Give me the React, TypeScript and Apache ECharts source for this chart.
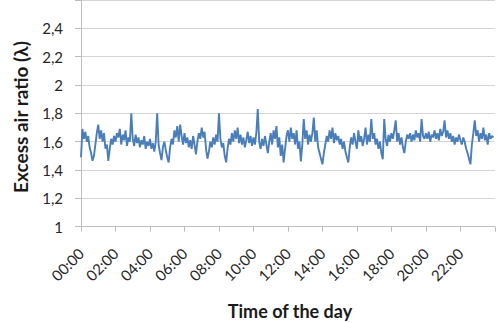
import React, { useEffect, useRef } from "react";
import * as echarts from "echarts";

// Excess air ratio (λ), one sample every 5 minutes over the day (288 samples)
const lambdaValues: number[] = [
  1.49, 1.69, 1.62, 1.67, 1.60, 1.64, 1.56, 1.52, 1.465, 1.50, 1.58, 1.66,
  1.72, 1.62, 1.68, 1.60, 1.66, 1.55, 1.58, 1.465, 1.55, 1.62, 1.58, 1.64,
  1.60, 1.66, 1.63, 1.69, 1.58, 1.65, 1.61, 1.68, 1.57, 1.63, 1.60, 1.80,
  1.62, 1.57, 1.65, 1.59, 1.63, 1.56, 1.61, 1.58, 1.64, 1.55, 1.60, 1.57,
  1.62, 1.55, 1.59, 1.53, 1.60, 1.80, 1.58, 1.52, 1.47, 1.56, 1.60, 1.54,
  1.49, 1.454, 1.56, 1.62, 1.58, 1.68, 1.63, 1.71, 1.60, 1.72, 1.64, 1.58,
  1.66, 1.59, 1.63, 1.56, 1.61, 1.55, 1.64, 1.58, 1.51, 1.60, 1.66, 1.62,
  1.70, 1.63, 1.67, 1.55, 1.48, 1.53, 1.60, 1.56, 1.63, 1.58, 1.65, 1.60,
  1.80, 1.62, 1.56, 1.59, 1.50, 1.454, 1.55, 1.62, 1.58, 1.66, 1.60, 1.68,
  1.62, 1.70, 1.59, 1.65, 1.58, 1.63, 1.56, 1.61, 1.67, 1.59, 1.64, 1.57,
  1.63, 1.58, 1.66, 1.83, 1.60, 1.55, 1.62, 1.57, 1.64, 1.58, 1.52, 1.60,
  1.66, 1.58, 1.68, 1.62, 1.71, 1.56, 1.63, 1.50, 1.58, 1.454, 1.55, 1.64,
  1.68, 1.60, 1.70, 1.62, 1.66, 1.58, 1.68, 1.55, 1.60, 1.46, 1.58, 1.76,
  1.62, 1.68, 1.58, 1.65, 1.60, 1.66, 1.77, 1.60, 1.68, 1.56, 1.52, 1.48,
  1.44, 1.52, 1.58, 1.64, 1.60, 1.68, 1.62, 1.70, 1.59, 1.66, 1.61, 1.64,
  1.58, 1.62, 1.55, 1.60, 1.53, 1.49, 1.454, 1.56, 1.63, 1.58, 1.66, 1.60,
  1.55, 1.68, 1.60, 1.64, 1.57, 1.62, 1.70, 1.58, 1.65, 1.60, 1.76, 1.62,
  1.66, 1.58, 1.62, 1.55, 1.60, 1.52, 1.476, 1.76, 1.62, 1.57, 1.65, 1.60,
  1.66, 1.62, 1.68, 1.75, 1.60, 1.66, 1.58, 1.63, 1.56, 1.52, 1.60, 1.65,
  1.62, 1.66, 1.60, 1.65, 1.61, 1.68, 1.63, 1.66, 1.60, 1.76, 1.64, 1.62,
  1.66, 1.62, 1.67, 1.60, 1.65, 1.63, 1.68, 1.62, 1.66, 1.61, 1.69, 1.64,
  1.67, 1.75, 1.63, 1.68, 1.62, 1.66, 1.60, 1.64, 1.58, 1.63, 1.60, 1.65,
  1.61, 1.58, 1.63, 1.60, 1.55, 1.52, 1.48, 1.44, 1.58, 1.66, 1.75, 1.64,
  1.68, 1.60, 1.66, 1.62, 1.70, 1.61, 1.65, 1.58, 1.66, 1.62, 1.64, 1.63,
];

const samplesPerHour = 12;
const xTickHours: number[] = [0, 2, 4, 6, 8, 10, 12, 14, 16, 18, 20, 22];
const yTickValues: number[] = [1, 1.2, 1.4, 1.6, 1.8, 2, 2.2, 2.4];
const yAxisTitle = "Excess air ratio (λ)";
const xAxisTitle = "Time of the day";

const FONT = "Lato, 'Open Sans', sans-serif";

export default function App() {
  const ref = useRef<HTMLDivElement>(null);

  useEffect(() => {
    if (!ref.current) return;
    const chart = echarts.init(ref.current, undefined, { renderer: "svg" });
    const seriesData = lambdaValues.map((v, i) => [i / samplesPerHour, v]);
    const pad = (n: number) => (n < 10 ? "0" + n : String(n));

    chart.setOption({
      animation: false,
      backgroundColor: "#ffffff",
      grid: { left: 81, right: -4, top: -8.5, bottom: 96.3, containLabel: false },
      xAxis: {
        type: "value",
        min: 0,
        max: 24,
        interval: 2,
        axisLine: { show: true, lineStyle: { color: "#bdbdbd", width: 1 } },
        axisTick: { show: true, inside: false, length: 5, lineStyle: { color: "#bdbdbd" } },
        splitLine: { show: false },
        axisLabel: {
          rotate: 45,
          margin: 24,
          fontFamily: FONT,
          fontSize: 15,
          color: "#262626",
          formatter: (v: number) =>
            xTickHours.indexOf(Math.round(v)) >= 0 ? pad(Math.round(v)) + ":00" : "",
        },
      },
      yAxis: {
        type: "value",
        min: 1,
        max: 2.6,
        interval: 0.2,
        axisLine: { show: true, lineStyle: { color: "#bdbdbd", width: 1 } },
        axisTick: { show: true, inside: false, length: 6, lineStyle: { color: "#bdbdbd" } },
        splitLine: { show: true, lineStyle: { color: "#d4d4d4", width: 1 } },
        axisLabel: {
          margin: 18,
          fontFamily: FONT,
          fontSize: 15,
          color: "#262626",
          formatter: (v: number) => {
            const r = Math.round(v * 10) / 10;
            return yTickValues.some((t) => Math.abs(t - r) < 1e-6)
              ? String(r).replace(".", ",")
              : "";
          },
        },
      },
      series: [
        {
          type: "line",
          data: seriesData,
          showSymbol: false,
          symbol: "none",
          lineStyle: { color: "#4a7ebb", width: 1.9 },
        },
      ],
      graphic: [
        {
          type: "text",
          x: 20,
          y: 117,
          rotation: Math.PI / 2,
          style: {
            text: yAxisTitle,
            fontFamily: FONT,
            fontSize: 19,
            fontWeight: "bold",
            fill: "#1a1a1a",
            textAlign: "center",
            textVerticalAlign: "middle",
          },
        },
        {
          type: "text",
          x: 290,
          y: 311,
          style: {
            text: xAxisTitle,
            fontFamily: FONT,
            fontSize: 18,
            fontWeight: "bold",
            fill: "#1a1a1a",
            textAlign: "center",
            textVerticalAlign: "middle",
          },
        },
      ],
    });

    return () => chart.dispose();
  }, []);

  return (
    <div
      ref={ref}
      style={{ position: "fixed", left: 0, top: 0, width: 497, height: 323 }}
    />
  );
}
